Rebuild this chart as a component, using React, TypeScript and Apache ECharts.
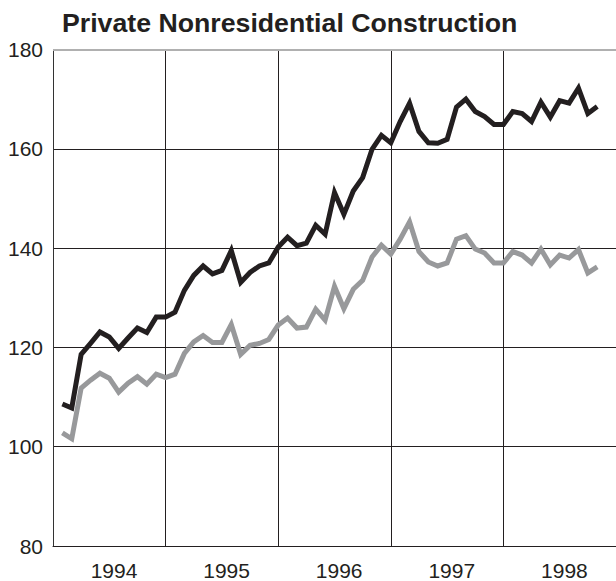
import React, { useEffect, useRef } from "react";
import * as echarts from "echarts";

// Monthly index values, Jan 1994 .. Oct 1998
const blackSeries = [
  108.6, 107.8, 118.6, 120.8, 123.1, 122.1, 119.8, 121.9, 123.9, 123.0, 126.1, 126.1,
  127.1, 131.5, 134.5, 136.4, 134.8, 135.5, 139.5, 133.1, 135.1, 136.4, 137.0, 140.2,
  142.2, 140.5, 141.0, 144.6, 142.8, 151.2, 146.8, 151.5, 154.2, 159.9, 162.7, 161.2,
  165.5, 169.2, 163.5, 161.2, 161.1, 161.9, 168.4, 170.0, 167.5, 166.5, 164.9, 164.9,
  167.5, 167.1, 165.5, 169.4, 166.4, 169.7, 169.2, 172.2, 167.1, 168.5,
];

const graySeries = [
  102.8, 101.6, 111.8, 113.4, 114.8, 113.8, 111.0, 112.8, 114.1, 112.6, 114.6, 113.9,
  114.6, 118.8, 121.1, 122.4, 121.0, 121.0, 124.6, 118.6, 120.4, 120.8, 121.6, 124.5,
  125.9, 123.9, 124.1, 127.7, 125.5, 132.3, 127.8, 131.7, 133.5, 138.2, 140.6, 138.8,
  141.8, 145.3, 139.3, 137.2, 136.4, 137.0, 141.8, 142.5, 139.8, 139.0, 137.0, 137.0,
  139.3, 138.6, 137.0, 139.8, 136.6, 138.6, 138.0, 139.7, 135.0, 136.2,
];

const yearLabels = ["1994", "1995", "1996", "1997", "1998"];
const yearLabelPositions = [5.5, 17.5, 29.5, 41.5, 53.5];

const title = "Private Nonresidential Construction";
const textColor = "#231f20";

export default function App() {
  const ref = useRef<HTMLDivElement>(null);

  useEffect(() => {
    if (!ref.current) return;
    const chart = echarts.init(ref.current, undefined, { renderer: "svg" });
    const font = "'Liberation Sans', Arial, Helvetica, sans-serif";
    chart.setOption({
      animation: false,
      backgroundColor: "#ffffff",
      title: {
        text: title,
        left: 57,
        top: 4,
        textStyle: {
          fontFamily: font,
          fontWeight: "bold",
          fontSize: 26.7,
          color: textColor,
        },
      },
      grid: {
        left: 53,
        right: -5,
        top: 49.5,
        bottom: 32.5,
        containLabel: false,
      },
      xAxis: {
        type: "value",
        min: -1,
        max: 59,
        interval: 12,
        axisLine: { show: true, onZero: false, lineStyle: { color: textColor, width: 1 } },
        axisTick: { show: false },
        splitLine: { show: true, lineStyle: { color: textColor, width: 1 } },
        axisLabel: {
          customValues: yearLabelPositions,
          formatter: (v: number) => {
            const idx = yearLabelPositions.findIndex((p) => Math.abs(p - v) < 0.01);
            return idx >= 0 ? yearLabels[idx] : "";
          },
          margin: 14,
          fontFamily: font,
          fontSize: 21,
          color: textColor,
        },
      },
      yAxis: {
        type: "value",
        min: 80,
        max: 180,
        interval: 20,
        axisLine: { show: true, onZero: false, lineStyle: { color: "#333333", width: 1 } },
        axisTick: { show: false },
        splitLine: { show: true, lineStyle: { color: textColor, width: 1 } },
        axisLabel: {
          margin: 10,
          fontFamily: font,
          fontSize: 21,
          color: textColor,
        },
      },
      series: [
        {
          type: "line",
          data: graySeries.map((v, i) => [i, v]),
          showSymbol: false,
          symbol: "none",
          lineStyle: { color: "#98999b", width: 5, join: "miter" },
          markLine: {
            silent: true,
            symbol: "none",
            label: { show: false },
            lineStyle: { color: "#b0b0b0", width: 2, type: "solid" },
            data: [{ yAxis: 180 }],
          },
        },
        {
          type: "line",
          data: blackSeries.map((v, i) => [i, v]),
          showSymbol: false,
          symbol: "none",
          lineStyle: { color: "#231f20", width: 5, join: "miter" },
        },
      ],
    });
    return () => chart.dispose();
  }, []);

  return (
    <div
      ref={ref}
      style={{ position: "absolute", left: 0, top: 0, width: 616, height: 581, background: "#fff" }}
    />
  );
}
